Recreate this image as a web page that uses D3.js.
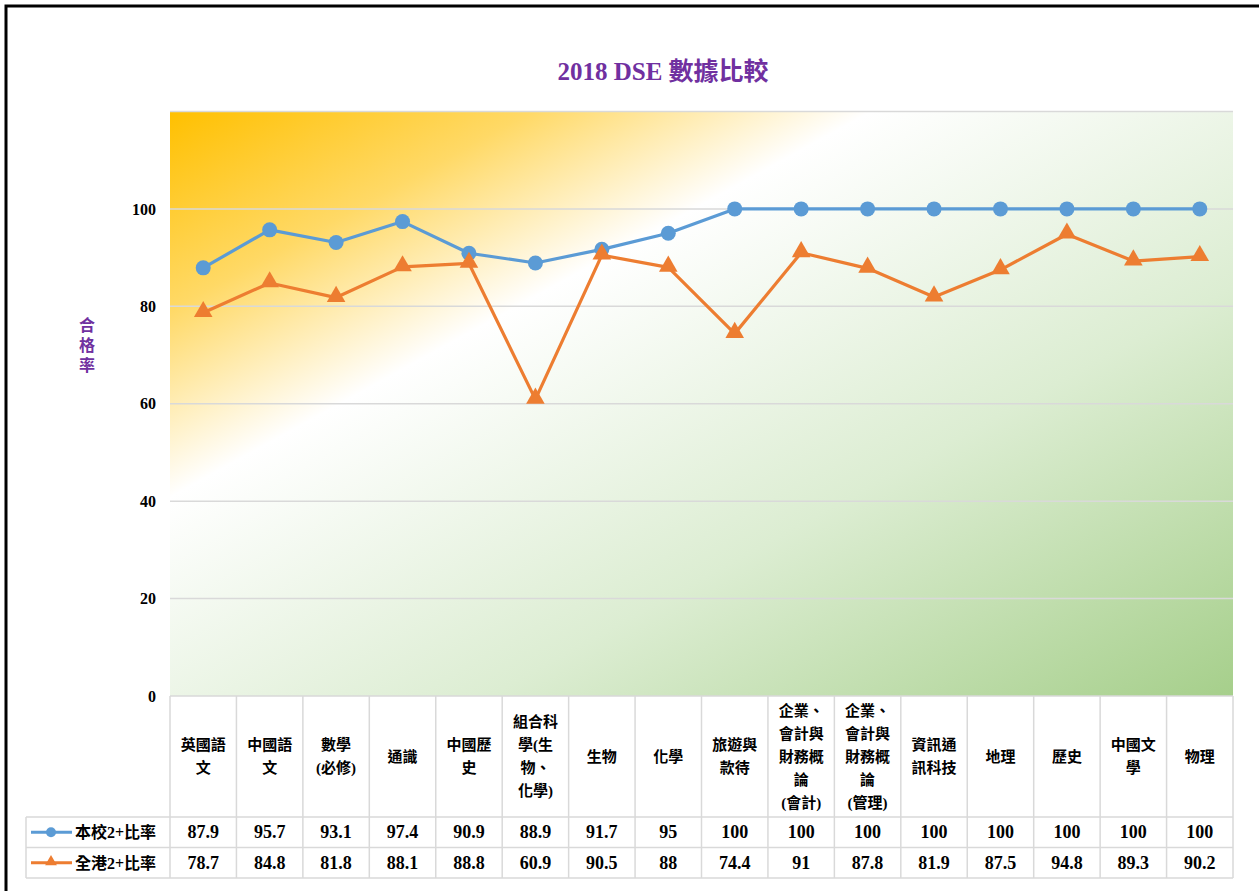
<!DOCTYPE html>
<html><head><meta charset="utf-8">
<script src="https://cdn.jsdelivr.net/npm/d3@7/dist/d3.min.js"></script>
<style>
html,body{margin:0;padding:0;background:#fff;}
svg{display:block;}
</style></head>
<body>
<svg id="chart" width="1259" height="891"></svg>
<script>
const categories = [
  ["英國語","文"],["中國語","文"],["數學","(必修)"],["通識"],["中國歷","史"],
  ["組合科","學(生","物、","化學)"],["生物"],["化學"],["旅遊與","款待"],
  ["企業、","會計與","財務概","論","(會計)"],["企業、","會計與","財務概","論","(管理)"],
  ["資訊通","訊科技"],["地理"],["歷史"],["中國文","學"],["物理"]
];
const schoolValues = [87.9,95.7,93.1,97.4,90.9,88.9,91.7,95,100,100,100,100,100,100,100,100];
const hkValues = [78.7,84.8,81.8,88.1,88.8,60.9,90.5,88,74.4,91,87.8,81.9,87.5,94.8,89.3,90.2];
const yTicks = [0,20,40,60,80,100];
const gridTicks = [0,20,40,60,80,100,120];
const seriesNames = ["本校2+比率","全港2+比率"];
const title = "2018 DSE 數據比較";
const yLabel = "合格率";

(function(){
const svg = d3.select("#chart");
const pL = 170, pR = 1233, pT = 111.5, pB = 696;
const serif = "'Liberation Serif','Times New Roman','Noto Sans CJK TC',serif";
const cjk = "'Liberation Serif','Noto Sans CJK TC',serif";

// frame
svg.append("rect").attr("x",6).attr("y",6).attr("width",1300).attr("height",1000)
  .attr("fill","none").attr("stroke","#000").attr("stroke-width",3);

const defs = svg.append("defs");
const grad = defs.append("linearGradient").attr("id","bg")
  .attr("x1",0).attr("y1",0).attr("x2",1).attr("y2",1);
grad.append("stop").attr("offset","0").attr("stop-color","#FFC000");
grad.append("stop").attr("offset","0.17").attr("stop-color","#FFD966");
grad.append("stop").attr("offset","0.33").attr("stop-color","#FFFFFF");
grad.append("stop").attr("offset","0.65").attr("stop-color","#DCEDD2");
grad.append("stop").attr("offset","1").attr("stop-color","#A6CF8B");

const x = d3.scaleBand().domain(d3.range(categories.length)).range([pL,pR]);
const y = d3.scaleLinear().domain([0,120]).range([pB,pT]);

svg.append("rect").attr("x",pL).attr("y",pT).attr("width",pR-pL).attr("height",pB-pT)
  .attr("fill","url(#bg)");

// gridlines
svg.append("g").selectAll("line").data(gridTicks).join("line")
  .attr("x1",pL).attr("x2",pR).attr("y1",d=>y(d)).attr("y2",d=>y(d))
  .attr("stroke","#D9D9D9").attr("stroke-width",1.5);

// y axis
const yAxis = d3.axisLeft(y).tickValues(yTicks).tickSize(0).tickPadding(14).tickFormat(d3.format("d"));
const ya = svg.append("g").attr("transform",`translate(${pL},0)`).call(yAxis);
ya.select(".domain").remove();
ya.selectAll("text").attr("font-family",serif).attr("font-weight","bold").attr("font-size",16).attr("fill","#000");

// title
svg.append("text").attr("x",663).attr("y",80).attr("text-anchor","middle")
  .attr("font-family",cjk).attr("font-weight","bold").attr("font-size",25).attr("fill","#7030A0").text(title);

// y label vertical
svg.append("g").selectAll("text").data(Array.from(yLabel)).join("text")
  .attr("x",87).attr("y",(d,i)=>331+i*20).attr("text-anchor","middle")
  .attr("font-family",cjk).attr("font-weight","bold").attr("font-size",16).attr("fill","#7030A0").text(d=>d);

// table
const tRow1 = 817, tRow2 = 847.5, tRow3 = 878, tLeft = 26;
const tg = svg.append("g").attr("stroke","#D9D9D9").attr("stroke-width",1.5);
const bounds = d3.range(categories.length).map(i=>x(i)).concat([pR]);
tg.selectAll("line.v").data(bounds).join("line").attr("class","v")
  .attr("x1",d=>d).attr("x2",d=>d).attr("y1",pB).attr("y2",tRow3);
[tRow1,tRow2,tRow3].forEach(yy=>{
  tg.append("line").attr("x1",tLeft).attr("x2",pR).attr("y1",yy).attr("y2",yy);
});
tg.append("line").attr("x1",tLeft).attr("x2",tLeft).attr("y1",tRow1).attr("y2",tRow3);

// header labels
const hg = svg.append("g");
categories.forEach((lines,i)=>{
  const cx = x(i)+x.bandwidth()/2;
  const lh = 23;
  const mid = (pB+tRow1)/2;
  const y0 = mid - (lines.length-1)*lh/2 + 5;
  lines.forEach((t,j)=>{
    hg.append("text").attr("x",cx).attr("y",y0+j*lh).attr("text-anchor","middle")
      .attr("font-family",cjk).attr("font-weight","bold").attr("font-size",15).attr("fill","#000").text(t);
  });
});

// values
[[schoolValues,tRow1],[hkValues,tRow2]].forEach(([vals,ry])=>{
  svg.append("g").selectAll("text").data(vals).join("text")
    .attr("x",(d,i)=>x(i)+x.bandwidth()/2).attr("y",ry+21).attr("text-anchor","middle")
    .attr("font-family",serif).attr("font-weight","bold").attr("font-size",18).attr("fill","#000").text(d=>String(d));
});

const colors = ["#5B9BD5","#ED7D31"];
const line = d3.line().x((d,i)=>x(i)+x.bandwidth()/2).y(d=>y(d));
const tri = d3.symbol().type(d3.symbolTriangle).size(150);

svg.append("path").datum(schoolValues).attr("d",line).attr("fill","none").attr("stroke",colors[0]).attr("stroke-width",3.2).attr("stroke-linejoin","round");
svg.append("path").datum(hkValues).attr("d",line).attr("fill","none").attr("stroke",colors[1]).attr("stroke-width",3.2).attr("stroke-linejoin","round");
svg.append("g").selectAll("circle").data(schoolValues).join("circle")
  .attr("cx",(d,i)=>x(i)+x.bandwidth()/2).attr("cy",d=>y(d)).attr("r",7.5).attr("fill",colors[0]);
svg.append("g").selectAll("path").data(hkValues).join("path")
  .attr("d",tri).attr("transform",(d,i)=>`translate(${x(i)+x.bandwidth()/2},${y(d)-1})`).attr("fill",colors[1]);

// legend in table
[0,1].forEach(k=>{
  const ry = k===0 ? (tRow1+tRow2)/2 : (tRow2+tRow3)/2;
  svg.append("line").attr("x1",31).attr("x2",72).attr("y1",ry).attr("y2",ry).attr("stroke",colors[k]).attr("stroke-width",3);
  if(k===0) svg.append("circle").attr("cx",51).attr("cy",ry).attr("r",5).attr("fill",colors[0]);
  else svg.append("path").attr("d",d3.symbol().type(d3.symbolTriangle).size(60)).attr("transform",`translate(51,${ry-1})`).attr("fill",colors[1]);
  svg.append("text").attr("x",75).attr("y",ry+6).attr("font-family",cjk).attr("font-weight","bold")
    .attr("font-size",16).attr("fill","#000").text(seriesNames[k]);
});
})();
</script>
</body></html>
